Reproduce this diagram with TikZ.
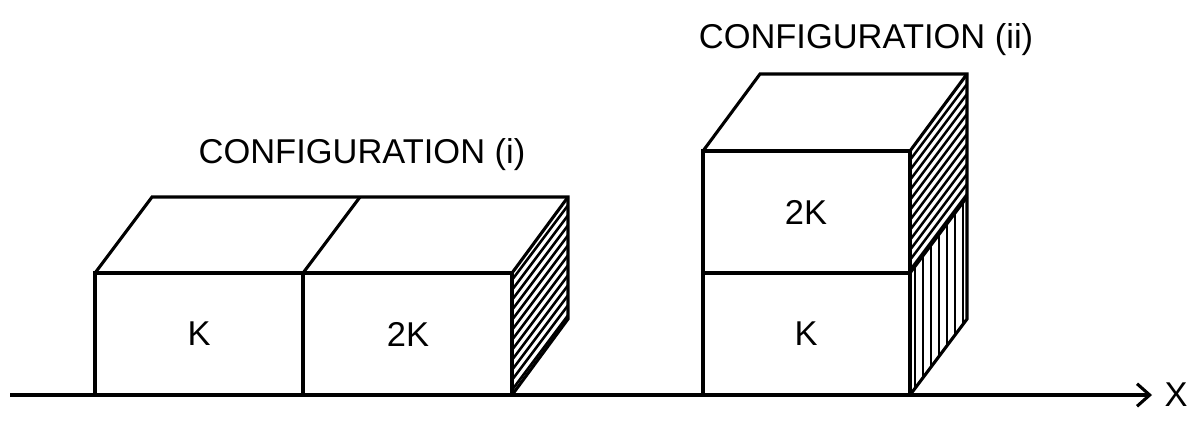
\documentclass[tikz,border=0pt]{standalone}
\usepackage{fontspec}
\setmainfont{Liberation Sans}
\usetikzlibrary{arrows.meta}
\tikzstyle{edge} = [line width=2.2pt, line join=miter]
\tikzstyle{hatch} = [line width=1.8pt]
\tikzstyle{lbl} = [font=\fontsize{24.5}{28}\selectfont]
\begin{document}
\begin{tikzpicture}[x=0.025cm, y=-0.025cm]
  \useasboundingbox (0,0) rectangle (1200,423);
  % axis
  \coordinate (o) at (10,395);
  \coordinate (xe) at (1152,395);
  \draw [edge, -{Straight Barb[length=9pt,width=16pt]}] (o) -- (xe);
  \node [lbl] (xl) at (1176,395) {X};
  % configuration (i)
  \begin{scope}
    \clip (512,273) -- (568,197) -- (568,319) -- (512,395) -- cycle;
    \foreach \y in {200,210,...,400}
      \draw [hatch] (512,\y) -- ++(57,-76);
  \end{scope}
  \draw [edge] (95,395) rectangle (303,273);
  \draw [edge] (303,395) rectangle (512,273);
  \draw [edge] (95,273) -- (152,197) -- (568,197) -- (568,319) -- (512,395);
  \draw [edge] (303,273) -- (360,197);
  \draw [edge] (512,273) -- (568,197);
  \node [lbl] (k1) at (199,334) {K};
  \node [lbl] (k2) at (408,334) {2K};
  \node [lbl] (c1) at (362,155) {CONFIGURATION (i)};
  % configuration (ii)
  \begin{scope}
    \clip (910,151) -- (967,74) -- (967,197) -- (910,273) -- cycle;
    \foreach \y in {80,90,...,280}
      \draw [hatch] (910,\y) -- ++(57,-76);
  \end{scope}
  \begin{scope}
    \clip (910,273) -- (967,197) -- (967,319) -- (910,395) -- cycle;
    \foreach \x in {915,923,...,967}
      \draw [hatch] (\x,190) -- (\x,400);
  \end{scope}
  \draw [edge] (703,395) rectangle (910,273);
  \draw [edge] (703,273) rectangle (910,151);
  \draw [edge] (703,151) -- (760,74) -- (967,74) -- (967,319) -- (910,395);
  \draw [edge] (910,151) -- (967,74);
  \draw [edge] (910,273) -- (967,197);
  \node [lbl] (k3) at (806,334) {K};
  \node [lbl] (k4) at (806,212) {2K};
  \node [lbl] (c2) at (866,40) {CONFIGURATION (ii)};
\end{tikzpicture}
\end{document}
